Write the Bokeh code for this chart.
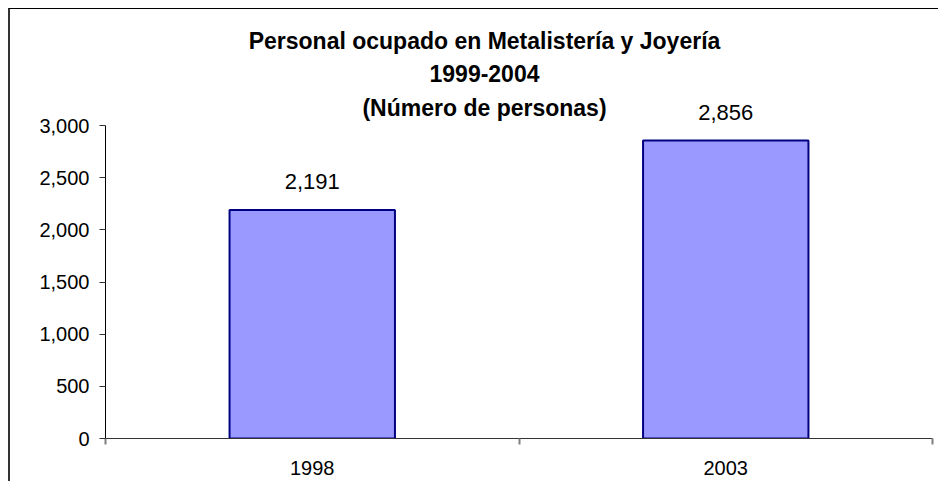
from bokeh.plotting import figure
from bokeh.models import (ColumnDataSource, FactorRange, Range1d, LinearAxis, FixedTicker,
                          NumeralTickFormatter, LabelSet, Label)
from bokeh.core.properties import value
from bokeh.embed import file_html
from bokeh.resources import INLINE

# ---- data ----
title_lines = ["Personal ocupado en Metalistería y Joyería", "1999-2004", "(Número de personas)"]
categories = ["1998", "2003"]
values = [2191, 2856]
y_ticks = [0, 500, 1000, 1500, 2000, 2500, 3000]
y_max = 3000

FONT = "Liberation Sans"

# layout (pixels)
W, H = 930, 473
FRAME_LEFT, FRAME_RIGHT_PAD, FRAME_BOTTOM_PAD = 95, 8, 44
AXIS_PX = 313          # pixel height of the 0..y_max axis
frame_h = H - FRAME_BOTTOM_PAD

source = ColumnDataSource(dict(cat=categories, val=values,
                               lab=[f"{v:,}" for v in values]))

p = figure(width=W, height=H, output_backend="svg", toolbar_location=None,
           x_range=FactorRange(*categories, range_padding=0),
           y_range=Range1d(0, y_max * frame_h / AXIS_PX),
           x_axis_type=None, y_axis_type=None,
           min_border_left=FRAME_LEFT, min_border_right=FRAME_RIGHT_PAD,
           min_border_top=0, min_border_bottom=FRAME_BOTTOM_PAD)
p.outline_line_color = None
p.background_fill_color = "white"
p.border_fill_color = "white"
p.styles = {"border-left": "2px solid #333333", "border-top": "1px solid #000000",
            "margin-left": "8px", "margin-top": "8px"}

# bars
p.vbar(x="cat", top="val", width=0.4, source=source,
       fill_color="#9999FF", line_color="#000080", line_width=2)

# value labels
p.add_layout(LabelSet(x="cat", y="val", text="lab", source=source,
                      text_align="center", text_baseline="alphabetic", y_offset=21,
                      text_font=value(FONT), text_font_size="22px", text_color="black"))

# y axis (line limited to 0..y_max)
yaxis = LinearAxis(ticker=FixedTicker(ticks=y_ticks), bounds=(0, y_max),
                   formatter=NumeralTickFormatter(format="0,0"),
                   major_tick_out=6, major_tick_in=0,
                   minor_tick_out=0, minor_tick_in=0,
                   major_tick_line_color="#333333",
                   axis_line_color="#000000", axis_line_width=1,
                   major_label_standoff=10,
                   major_label_text_font=FONT, major_label_text_font_size="20px",
                   major_label_text_color="black")
p.add_layout(yaxis, "left")

# x axis: labels at category centres, tick marks at category boundaries
n = len(categories)
xaxis = LinearAxis(ticker=FixedTicker(ticks=[i + 0.5 for i in range(n)],
                                      minor_ticks=[float(i) for i in range(n + 1)]),
                   major_label_overrides={i + 0.5: c for i, c in enumerate(categories)},
                   major_tick_out=0, major_tick_in=0,
                   minor_tick_out=6, minor_tick_in=0,
                   minor_tick_line_color="#808080", minor_tick_line_width=2,
                   axis_line_color="#333333", axis_line_width=1,
                   major_label_standoff=16,
                   major_label_text_font=FONT, major_label_text_font_size="20px",
                   major_label_text_color="black")
p.add_layout(xaxis, "below")

# title (three lines)
title_y = [398, 365, 331]
for txt, ty in zip(title_lines, title_y):
    p.add_layout(Label(x=379, y=ty, x_units="screen", y_units="screen", text=txt,
                       text_font=FONT, text_font_style="bold", text_font_size="23px",
                       text_align="center", text_baseline="alphabetic", text_color="black"))

open("out.html", "w").write(file_html(p, INLINE))
